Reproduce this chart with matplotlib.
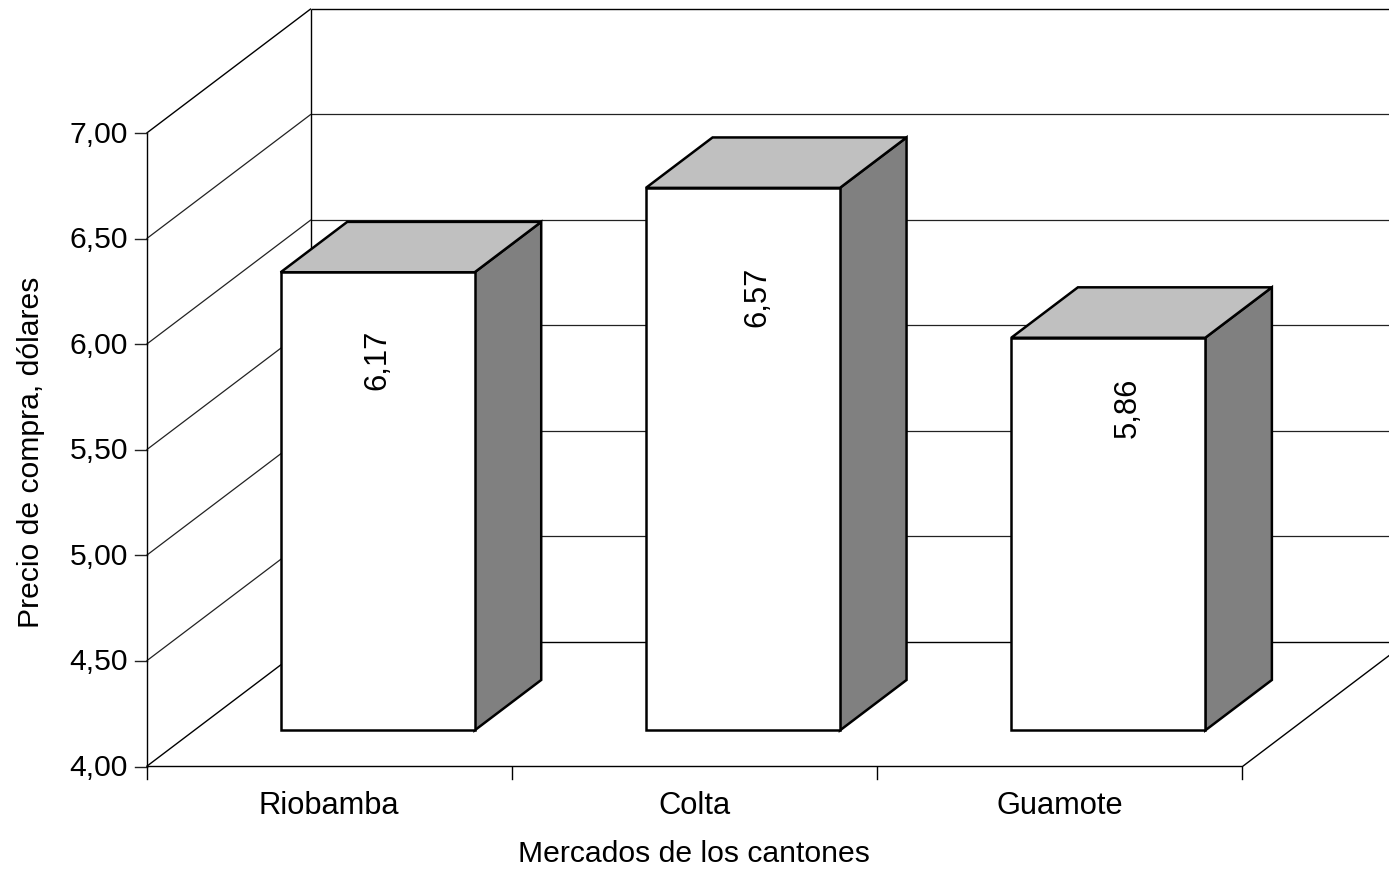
import matplotlib
matplotlib.use('Agg')
import matplotlib.pyplot as plt
from matplotlib.patches import Polygon

plt.rcParams['font.family'] = ['Liberation Sans', 'DejaVu Sans']

# data
categories = ['Riobamba', 'Colta', 'Guamote']
values = [6.17, 6.57, 5.86]
value_labels = ['6,17', '6,57', '5,86']
y_ticks = [4.0, 4.5, 5.0, 5.5, 6.0, 6.5, 7.0]
y_tick_labels = ['4,00', '4,50', '5,00', '5,50', '6,00', '6,50', '7,00']
x_title = 'Mercados de los cantones'
y_title = 'Precio de compra, dólares'

# oblique chart box, in pixels of the 1389x869 picture
X0, Y0 = 146.5, 766.5   # front corner at value 4
CAT_W = 365.33          # width of one category
UNIT_H = 211.1          # height of one dollar
DX, DY = 164.5, -124.5  # shift from front plane to back wall
BAR_W = 0.531
BAR_GAP = 0.2365
D_FRONT = 0.29
D_BACK = 0.695
FS = 21.7
FS_LAB = 22.2
label_dx = [0, 14, 19]  # the value labels drift right of the bar centre


def proj(c, v, d=0.0):
    """c = category position, v = value, d = depth 0..1"""
    return (X0 + c*CAT_W + d*DX, Y0 - (v - 4.0)*UNIT_H + d*DY)


fig = plt.figure(figsize=(13.89, 8.69), dpi=100)
ax = fig.add_axes([0, 0, 1, 1])
ax.set_xlim(0, 1389)
ax.set_ylim(869, 0)
ax.axis('off')

n = len(categories)
wall = dict(color='black', lw=1.0, solid_capstyle='butt', zorder=1)
grid = dict(color='#222222', lw=0.9, solid_capstyle='butt', zorder=1)

# walls
for v, lab in zip(y_ticks, y_tick_labels):
    a = proj(0, v, 0)
    b = proj(0, v, 1)
    c = proj(n, v, 1)
    style = wall if v in (4.0, 7.0) else grid
    ax.plot([a[0], b[0]], [a[1], b[1]], **style)
    ax.plot([b[0], c[0]], [b[1], c[1]], **style)
    ax.plot([a[0] - 12, a[0]], [a[1], a[1]], color='#222222', lw=1.0, zorder=1)
    ax.text(a[0] - 18.5, a[1] + 1.5, lab, ha='right', va='center', fontsize=FS)

p = [proj(0, 4, 0), proj(0, 7, 0)]
ax.plot([p[0][0], p[1][0]], [p[0][1], p[1][1]], **wall)
p = [proj(0, 4, 1), proj(0, 7, 1)]
ax.plot([p[0][0], p[1][0]], [p[0][1], p[1][1]], **wall)

# floor
p = [proj(0, 4, 0), proj(n, 4, 0), proj(n, 4, 1)]
ax.plot([q[0] for q in p], [q[1] for q in p], **wall)

# x ticks and labels
for i in range(n + 1):
    t = proj(i, 4, 0)
    ax.plot([t[0], t[0]], [t[1], t[1] + 12.5], color='black', lw=1.0, zorder=1)
for i, name in enumerate(categories):
    t = proj(i + 0.5, 4, 0)
    ax.text(t[0], 806, name, ha='center', va='center', fontsize=FS_LAB)

# bars
for i, val in enumerate(values):
    left = i + BAR_GAP
    right = left + BAR_W
    front = [proj(left, 4, D_FRONT), proj(right, 4, D_FRONT),
             proj(right, val, D_FRONT), proj(left, val, D_FRONT)]
    side = [proj(right, 4, D_FRONT), proj(right, 4, D_BACK),
            proj(right, val, D_BACK), proj(right, val, D_FRONT)]
    top = [proj(left, val, D_FRONT), proj(right, val, D_FRONT),
           proj(right, val, D_BACK), proj(left, val, D_BACK)]
    ax.add_patch(Polygon(side, closed=True, fc='#808080', ec='black', lw=1.8, joinstyle='miter', zorder=3))
    ax.add_patch(Polygon(top, closed=True, fc='#c0c0c0', ec='black', lw=1.8, joinstyle='miter', zorder=3))
    ax.add_patch(Polygon(front, closed=True, fc='white', ec='black', lw=1.8, joinstyle='miter', zorder=4))
    # label sits at about 3/4 of the bar height
    m = proj(left + BAR_W/2, 4 + 0.74*(val - 4) + 0.15, D_FRONT)
    ax.text(m[0] + label_dx[i], m[1], value_labels[i], rotation=90, ha='center', va='center',
            fontsize=FS_LAB, zorder=5)

ax.text(693.5, 853.5, x_title, ha='center', va='center', fontsize=FS)
ax.text(31, 452.5, y_title, rotation=90, ha='center', va='center', fontsize=FS)

fig.savefig('out.png', dpi=100)
